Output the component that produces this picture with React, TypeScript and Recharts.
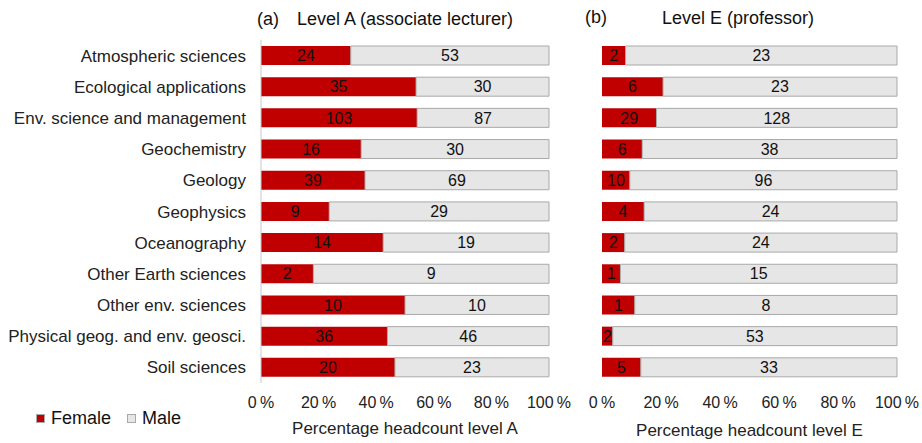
import React from 'react';
import { BarChart, Bar, XAxis, YAxis, LabelList } from 'recharts';

const categories = [
  'Atmospheric sciences',
  'Ecological applications',
  'Env. science and management',
  'Geochemistry',
  'Geology',
  'Geophysics',
  'Oceanography',
  'Other Earth sciences',
  'Other env. sciences',
  'Physical geog. and env. geosci.',
  'Soil sciences',
];

// headcounts, level A (associate lecturer)
const femaleA = [24, 35, 103, 16, 39, 9, 14, 2, 10, 36, 20];
const maleA = [53, 30, 87, 30, 69, 29, 19, 9, 10, 46, 23];

// headcounts, level E (professor)
const femaleE = [2, 6, 29, 6, 10, 4, 2, 1, 1, 2, 5];
const maleE = [23, 23, 128, 38, 96, 24, 24, 15, 8, 53, 33];

const percentTicks = [0, 20, 40, 60, 80, 100];

const FONT = '"Liberation Sans", Arial, sans-serif';
const RED = '#c00000';
const GREY = '#e6e6e6';
const BORDER = '#a9a9a9';

const toRows = (female: number[], male: number[]) =>
  categories.map((name, i) => {
    const total = female[i] + male[i];
    return {
      name,
      femaleN: female[i],
      maleN: male[i],
      femalePct: (female[i] / total) * 100,
      malePct: (male[i] / total) * 100,
    };
  });

const rowsA = toRows(femaleA, maleA);
const rowsE = toRows(femaleE, maleE);

const pct = (v: number) => `${v}\u2009%`;

const LegendBox = () => (
  <div style={{ display: 'flex', alignItems: 'center', fontFamily: FONT, fontSize: 18, color: '#111' }}>
    <span style={{ width: 7, height: 7, background: RED, border: `1px solid ${BORDER}`, marginRight: 6 }} />
    <span style={{ marginRight: 16 }}>Female</span>
    <span style={{ width: 7, height: 7, background: GREY, border: `1px solid ${BORDER}`, marginRight: 6 }} />
    <span>Male</span>
  </div>
);

const Panel = ({
  data,
  width,
  margin,
  showCategories,
  axisTitle,
  titleOffset,
}: {
  data: ReturnType<typeof toRows>;
  width: number;
  margin: { top: number; right: number; bottom: number; left: number };
  showCategories: boolean;
  axisTitle: string;
  titleOffset: number;
}) => (
  <BarChart width={width} height={443} data={data} layout="vertical" margin={margin} barCategoryGap={0}>
    <XAxis
      type="number"
      domain={[0, 100]}
      ticks={percentTicks}
      tickFormatter={pct}
      axisLine={false}
      tickLine={false}
      tickMargin={8}
      height={60}
      tick={{ fontSize: 16, fill: '#222', fontFamily: FONT }}
      label={{
        value: axisTitle,
        position: 'insideBottom',
        offset: titleOffset,
        style: { fontSize: 17, fill: '#222', fontFamily: FONT },
      }}
      interval={0}
    />
    <YAxis
      type="category"
      dataKey="name"
      hide={!showCategories}
      width={261}
      axisLine={{ stroke: '#c8c8c8' }}
      tickLine={false}
      tickMargin={9}
      interval={0}
      tick={{ fontSize: 17, fill: '#222', fontFamily: FONT }}
    />
    <Bar dataKey="femalePct" name="Female" stackId="s" fill={RED} barSize={19} isAnimationActive={false}>
      <LabelList dataKey="femaleN" position="center" fill="#111" fontSize={16} fontFamily={FONT} />
    </Bar>
    <Bar
      dataKey="malePct"
      name="Male"
      stackId="s"
      fill={GREY}
      stroke={BORDER}
      strokeWidth={1}
      barSize={19}
      isAnimationActive={false}
    >
      <LabelList dataKey="maleN" position="center" fill="#111" fontSize={16} fontFamily={FONT} />
    </Bar>
  </BarChart>
);

export default function App() {
  const titleStyle: React.CSSProperties = {
    position: 'absolute',
    fontFamily: FONT,
    fontSize: 18,
    color: '#111',
    whiteSpace: 'pre',
    lineHeight: '20px',
  };
  return (
    <div style={{ position: 'absolute', left: 0, top: 0, width: 922, height: 443, background: '#fff' }}>
      <div style={{ position: 'absolute', left: 0, top: 0 }}>
        <Panel
          data={rowsA}
          width={590}
          margin={{ top: 40, right: 41, bottom: 0, left: 0 }}
          showCategories
          axisTitle="Percentage headcount  level A"
          titleOffset={9}
        />
      </div>
      <div style={{ position: 'absolute', left: 560, top: 0 }}>
        <Panel
          data={rowsE}
          width={362}
          margin={{ top: 40, right: 25, bottom: 0, left: 42 }}
          showCategories={false}
          axisTitle="Percentage headcount  level E"
          titleOffset={7}
        />
      </div>
      <div style={{ position: 'absolute', left: 36, top: 408 }}>
        <LegendBox />
      </div>
      <div style={{ ...titleStyle, left: 257, top: 9 }}>(a)</div>
      <div style={{ ...titleStyle, left: 297, top: 9 }}>Level A (associate lecturer)</div>
      <div style={{ ...titleStyle, left: 585, top: 7 }}>(b)</div>
      <div style={{ ...titleStyle, left: 662, top: 8 }}>Level E (professor)</div>
    </div>
  );
}
